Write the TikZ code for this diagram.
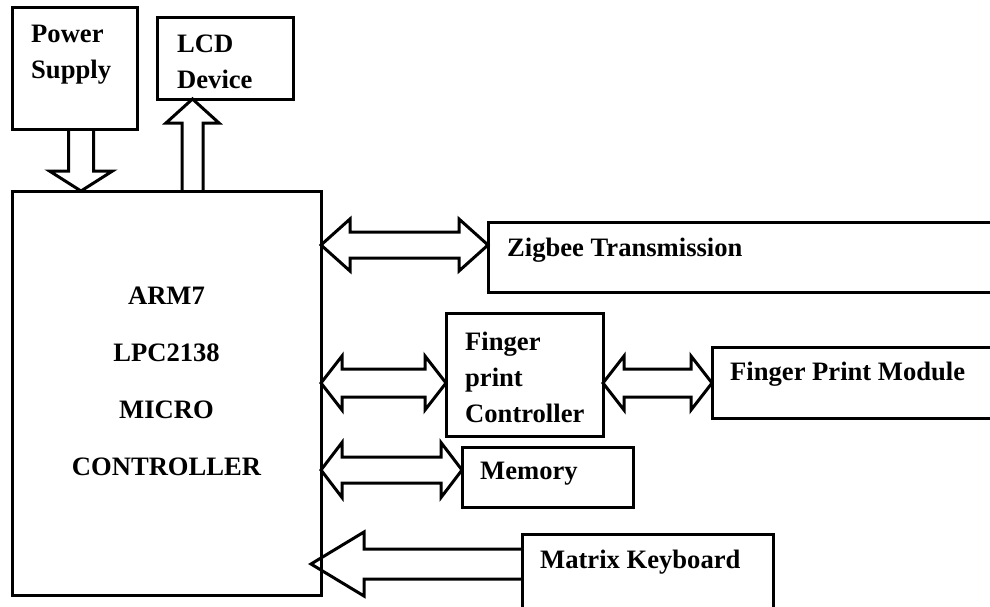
\documentclass[tikz,border=0pt]{standalone}
\usepackage{fontspec}
\setmainfont{Liberation Serif}
\usepackage{tikz}
\usetikzlibrary{calc}

\tikzset{
  box/.style={draw, line width=3pt, rectangle, outer sep=0pt, inner sep=0pt, anchor=north west},
  lbl/.style={font=\bfseries\fontsize{26.6}{36}\selectfont, align=left, inner sep=0pt, anchor=north west},
  blk/.style={line width=3pt, line join=miter},
}

% double block arrow: left node, right node, height, head length, head half width, shaft half width
\newcommand{\twoway}[6]{%
  \path (#1.east |- 0,#3) coordinate (l) (#2.west |- 0,#3) coordinate (r);
  \draw[blk] (l) -- ++(#4,-#5) -- ++(0,#5-#6) -- ($(r)+(-#4,-#6)$) -- ++(0,#6-#5)
    -- (r) -- ++(-#4,#5) -- ++(0,#6-#5) -- ($(l)+(#4,#6)$) -- ++(0,#5-#6) -- cycle;}

\begin{document}
\begin{tikzpicture}[x=1pt,y=-1pt]
    \useasboundingbox (0,0) rectangle (990,606);
    \clip (0,0) rectangle (990,606);

    \node[box, minimum width=125pt, minimum height=122pt] (psu) at (12,7) {};
    \node[box, minimum width=136pt, minimum height=82pt] (lcd) at (157,17) {};
    \node[box, minimum width=309pt, minimum height=404pt] (mcu) at (12,191) {};
    \node[box, minimum width=600pt, minimum height=70pt] (zig) at (488,222) {};
    \node[box, minimum width=157pt, minimum height=123pt] (fpc) at (446,313) {};
    \node[box, minimum width=400pt, minimum height=71pt] (fpm) at (712,347) {};
    \node[box, minimum width=171pt, minimum height=60pt] (mem) at (462,447) {};
    \node[box, minimum width=251pt, minimum height=120pt] (kbd) at (522,534) {};

    \node[lbl] (tpsu) at (31,25) {Power\\Supply};
    \node[lbl] (tlcd) at (177,35) {LCD\\Device};
    \node[lbl, font=\bfseries\fontsize{26.6}{57}\selectfont, align=center, anchor=center]
        (tmcu) at ($(mcu.center)+(0,-12)$) {ARM7\\LPC2138\\MICRO\\CONTROLLER};
    \node[lbl] (tzig) at (507,238) {Zigbee Transmission};
    \node[lbl] (tfpc) at (465,332) {Finger\\print\\Controller};
    \node[lbl] (tfpm) at (730,362) {Finger Print Module};
    \node[lbl] (tmem) at (480,462) {Memory};
    \node[lbl] (tkbd) at (540,550) {Matrix Keyboard};

    % power in, lcd out
    \coordinate (p) at (mcu.north -| 81,0);
    \draw[blk] (psu.south -| 68.5,0) -- ($(p)+(-12.5,-20)$) -- ++(-19,0) -- (p)
        -- ($(p)+(31.5,-20)$) -- ++(-19,0) -- (psu.south -| 93.5,0);
    \coordinate (q) at (lcd.south -| 192.5,0);
    \draw[blk] (mcu.north -| 182,0) -- ($(q)+(-10.5,24)$) -- ++(-16,0) -- (q)
        -- ($(q)+(26.5,24)$) -- ++(-16,0) -- (mcu.north -| 203,0);

    \twoway{mcu}{zig}{245}{29}{26}{13}
    \twoway{mcu}{fpc}{383}{21}{27}{14}
    \twoway{fpc}{fpm}{383}{21}{27}{14}
    \twoway{mcu}{mem}{470}{21}{27.5}{13}

    % keyboard in
    \coordinate (k) at ($(mcu.east |- 0,564)+(-10,0)$);
    \draw[blk] ($(kbd.west |- 0,564)+(0,-15)$) -- ($(k)+(53,-15)$) -- ++(0,-17) -- (k)
        -- ($(k)+(53,32)$) -- ++(0,-17) -- ($(kbd.west |- 0,564)+(0,15)$);
\end{tikzpicture}
\end{document}
